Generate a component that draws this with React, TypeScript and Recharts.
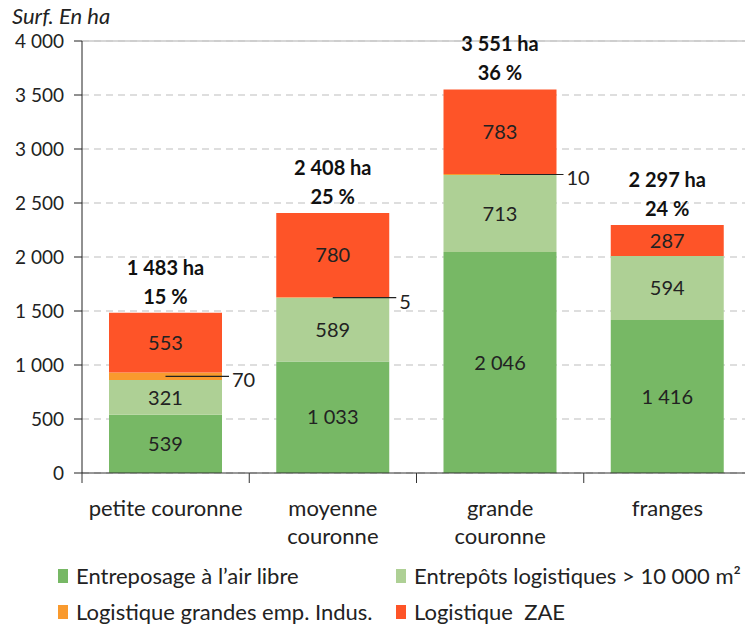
import { Bar, BarChart, CartesianGrid, LabelList, ReferenceLine, XAxis, YAxis } from 'recharts';

const categories = ['petite couronne', 'moyenne\ncouronne', 'grande\ncouronne', 'franges'];
const airLibre = [539, 1033, 2046, 1416];
const entrepots = [321, 589, 713, 594];
const grandesEmp = [70, 5, 10, 0];
const zae = [553, 780, 783, 287];
const totalLabels = ['1 483 ha', '2 408 ha', '3 551 ha', '2 297 ha'];
const shareLabels = ['15 %', '25 %', '36 %', '24 %'];
const yTicks = [0, 500, 1000, 1500, 2000, 2500, 3000, 3500, 4000];

const legendItems = [
  { name: 'Entreposage à l\u2019air libre', color: '#77b865' },
  { name: 'Entrepôts logistiques > 10 000 m²', color: '#aed095' },
  { name: 'Logistique grandes emp. Indus.', color: '#f99a2e' },
  { name: 'Logistique  ZAE', color: '#fe5428' },
];

const data = categories.map((name, i) => ({
  name,
  airLibre: airLibre[i],
  entrepots: entrepots[i],
  grandesEmp: grandesEmp[i],
  zae: zae[i],
  totalLabel: totalLabels[i],
  shareLabel: shareLabels[i],
}));

const FONT = 'Lato, "Open Sans", sans-serif';
const CHART_W = 745;
const CHART_H = 540;
const MARGIN = { top: 33, right: 2, bottom: 15, left: 0 };
const Y_AXIS_W = 74;
const PLOT_W = CHART_W - MARGIN.left - MARGIN.right - Y_AXIS_W;
const BAND = PLOT_W / categories.length;

const fmt = (v: number | string) => String(v).replace(/\B(?=(\d{3})+(?!\d))/g, ' ');

function CategoryTick(props: any) {
  const { x, y, payload, index } = props;
  const lines = String(payload.value).split('\n');
  return (
    <g>
      <line x1={x - BAND / 2} x2={x - BAND / 2} y1={y} y2={y + 10} stroke="#333" />
      {index === categories.length - 1 && (
        <line x1={x + BAND / 2} x2={x + BAND / 2} y1={y} y2={y + 10} stroke="#333" />
      )}
      {lines.map((l, i) => (
        <text key={i} x={x} y={y + 34 + i * 28} textAnchor="middle" dominantBaseline="central" fontSize={22} fill="#222" fontFamily={FONT}>
          {l}
        </text>
      ))}
    </g>
  );
}

function SmallValue(props: any) {
  const { x, y, width, height, value } = props;
  if (!value) return null;
  const cy = y + height / 2;
  return (
    <g>
      <line x1={x + width / 2} x2={x + width + 7} y1={cy} y2={cy} stroke="#222" strokeWidth={1.2} />
      <text x={x + width + 10} y={cy + 3} dominantBaseline="central" fontSize={20} fill="#222" fontFamily={FONT}>
        {value}
      </text>
    </g>
  );
}

function TopLabel(offset: number) {
  return (props: any) => {
    const { x, y, width, value } = props;
    return (
      <text x={x + width / 2} y={y - offset} textAnchor="middle" dominantBaseline="central" fontSize={20} fontWeight="bold" fill="#111" fontFamily={FONT}>
        {value}
      </text>
    );
  };
}

const inBar = { fill: '#222', fontSize: 20, fontFamily: FONT };

export default function App() {
  return (
    <div style={{ position: 'relative', width: CHART_W, height: 616, fontFamily: FONT }}>
      <div style={{ position: 'absolute', left: 4, top: -6, fontSize: 22, fontStyle: 'italic', color: '#222' }}>
        Surf. En ha
      </div>
      <BarChart width={CHART_W} height={CHART_H} data={data} margin={MARGIN} barSize={113}>
        <CartesianGrid vertical={false} stroke="#bdbdbd" strokeDasharray="7 5" />
        <ReferenceLine y={4000} stroke="#c8c8c8" strokeWidth={1.5} />
        <XAxis
          dataKey="name"
          axisLine={{ stroke: '#333' }}
          tickLine={false}
          tickSize={0}
          tickMargin={0}
          interval={0}
          height={60}
          tick={<CategoryTick />}
        />
        <YAxis
          width={Y_AXIS_W}
          domain={[0, 4000]}
          ticks={yTicks}
          tickFormatter={fmt}
          axisLine={{ stroke: '#222' }}
          tickLine={{ stroke: '#222' }}
          tickSize={8}
          tickMargin={10}
          tick={{ fill: '#222', fontSize: 19, fontFamily: FONT }}
        />
        <Bar dataKey="airLibre" stackId="a" fill="#77b865" isAnimationActive={false}>
          <LabelList dataKey="airLibre" position="center" formatter={fmt} {...inBar} />
        </Bar>
        <Bar dataKey="entrepots" stackId="a" fill="#aed095" isAnimationActive={false}>
          <LabelList dataKey="entrepots" position="center" formatter={fmt} {...inBar} />
        </Bar>
        <Bar dataKey="grandesEmp" stackId="a" fill="#f99a2e" isAnimationActive={false}>
          <LabelList dataKey="grandesEmp" content={<SmallValue />} />
        </Bar>
        <Bar dataKey="zae" stackId="a" fill="#fe5428" isAnimationActive={false}>
          <LabelList dataKey="zae" position="center" formatter={fmt} {...inBar} />
          <LabelList dataKey="totalLabel" content={TopLabel(46)} />
          <LabelList dataKey="shareLabel" content={TopLabel(17)} />
        </Bar>
      </BarChart>
      {legendItems.map((item, i) => (
        <div
          key={item.name}
          style={{
            position: 'absolute',
            left: i % 2 === 0 ? 50 : 388,
            top: i < 2 ? 554 : 590,
            display: 'flex',
            alignItems: 'center',
            fontSize: 22,
            color: '#222',
            whiteSpace: 'pre',
          }}
        >
          <span style={{ display: 'inline-block', width: 10, height: 14, background: item.color, marginRight: 8 }} />
          {item.name}
        </div>
      ))}
    </div>
  );
}
